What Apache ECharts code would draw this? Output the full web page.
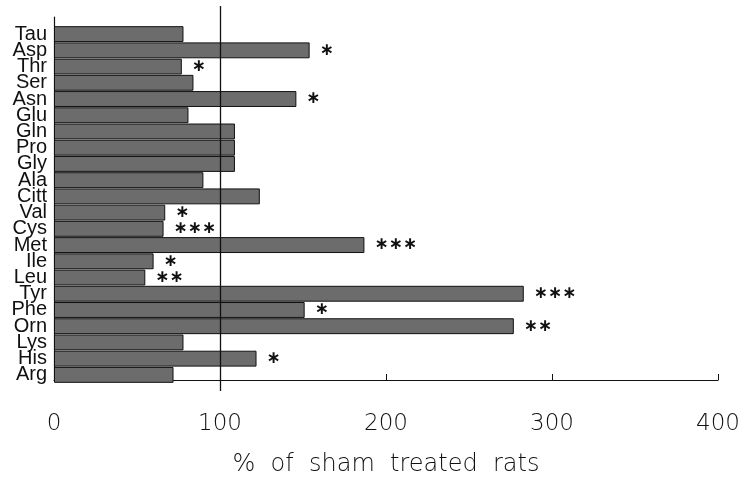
<!DOCTYPE html>
<html>
<head>
<meta charset="utf-8">
<script src="https://cdn.jsdelivr.net/npm/echarts@6/dist/echarts.min.js"></script>
<style>html,body{margin:0;padding:0;background:#fff}#c{width:744px;height:482px}</style>
</head>
<body>
<div id="c"></div>
<script>
const categories = ['Tau','Asp','Thr','Ser','Asn','Glu','Gln','Pro','Gly','Ala','Citt','Val','Cys','Met','Ile','Leu','Tyr','Phe','Orn','Lys','His','Arg'];
const values = [78,154,77,84,146,81,109,109,109,90,124,67,66,187,60,55,283,151,277,78,122,72];
const stars = ['','*','*','','*','','','','','','','*','***','***','*','**','***','*','**','','*',''];
const xTicks = [0,100,200,300,400];
const refValue = 100;
const xName = '%  of  sham  treated  rats';

const chart = echarts.init(document.getElementById('c'));
const starText = s => s.replace(/\*/g, '\u2217');
chart.setOption({
  animation: false,
  backgroundColor: '#fff',
  grid: [
    {left: 54, right: 26, top: 26, bottom: 99},
    {left: 54, right: 26, top: 17, bottom: 91},
    {left: 54, right: 26, top: 6, bottom: 91}
  ],
  xAxis: [
    {gridIndex: 0, type: 'value', min: xTicks[0], max: xTicks[xTicks.length-1], interval: 100, show: false},
    {gridIndex: 1, type: 'value', min: xTicks[0], max: xTicks[xTicks.length-1], interval: 100,
     splitLine: {show: false},
     axisLine: {show: true, lineStyle: {color: '#111', width: 1.2}},
     axisTick: {show: true, inside: true, length: 6, lineStyle: {color: '#111'}},
     axisLabel: {color: '#111', fontFamily: 'DejaVu Sans', fontWeight: 200, fontSize: 23, margin: 33},
     name: xName, nameLocation: 'middle', nameGap: 73, nameMoveOverlap: false,
     nameTextStyle: {color: '#111', fontFamily: 'DejaVu Sans', fontWeight: 200, fontSize: 24}
    },
    {gridIndex: 2, type: 'value', min: xTicks[0], max: xTicks[xTicks.length-1], show: false}
  ],
  yAxis: [
    {gridIndex: 0, type: 'category', data: categories, inverse: true,
     axisLine: {show: false}, axisTick: {show: false},
     axisLabel: {interval: 0, color: '#111', fontFamily: 'Liberation Sans', fontSize: 20, margin: 7, lineHeight: 16}},
    {gridIndex: 1, type: 'value', min: 0, max: 1,
     axisLine: {show: true, lineStyle: {color: '#111', width: 1.2}},
     axisTick: {show: false}, axisLabel: {show: false}, splitLine: {show: false}},
    {gridIndex: 2, type: 'value', min: 0, max: 1, show: false}
  ],
  series: [
    {type: 'bar', xAxisIndex: 0, yAxisIndex: 0, data: values, barCategoryGap: '2%',
     itemStyle: {color: '#6c6c6c', borderColor: '#111', borderWidth: 1},
     label: {show: true, position: 'right', distance: 10,
       formatter: p => starText(stars[p.dataIndex]),
       color: '#111', fontFamily: 'DejaVu Sans', fontSize: 17, fontWeight: 'bold'}
    },
    {type: 'line', xAxisIndex: 2, yAxisIndex: 2, data: [], silent: true,
     markLine: {symbol: 'none', silent: true, label: {show: false},
       lineStyle: {color: '#111', width: 1.3, type: 'solid'},
       data: [{xAxis: refValue}]}
    }
  ]
});
</script>
</body>
</html>
